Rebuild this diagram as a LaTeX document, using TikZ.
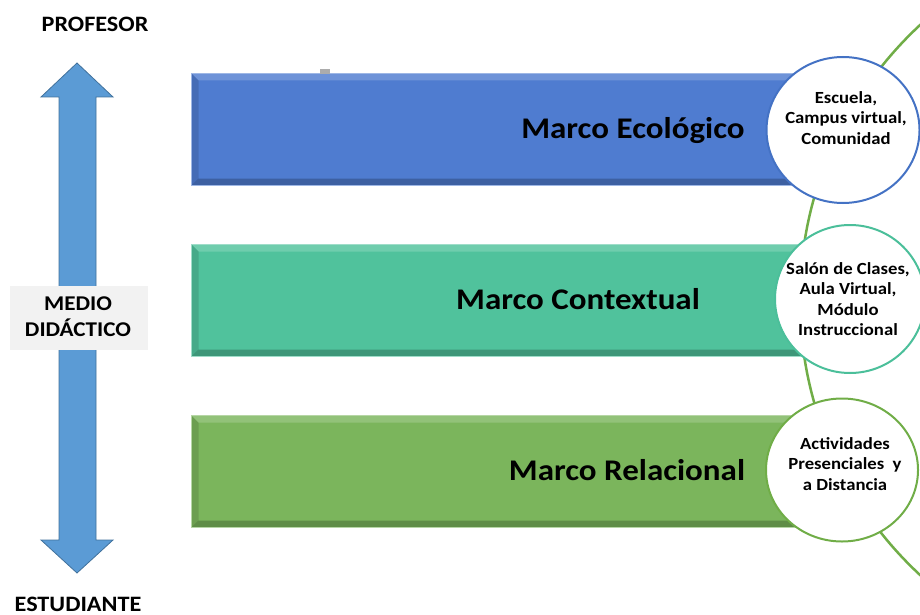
\documentclass[tikz,border=0pt]{standalone}
\usepackage{fontspec}
\setmainfont[FakeStretch=1.1]{Carlito}
\usetikzlibrary{shapes.geometric}
\definecolor{barblue}{HTML}{4F7CD0}
\definecolor{barteal}{HTML}{50C29C}
\definecolor{bargreen}{HTML}{7BB55C}
\definecolor{ringblue}{HTML}{4472C4}
\definecolor{ringteal}{HTML}{4BBF9A}
\definecolor{ringgreen}{HTML}{70AD47}
\definecolor{arrowblue}{HTML}{5B9BD5}
\definecolor{arrowedge}{HTML}{41719C}
\definecolor{medbox}{HTML}{F2F2F2}
\begin{document}
\begin{tikzpicture}[x=1pt,y=-1pt,
  bar/.style={rectangle, anchor=north west, minimum width=640pt, minimum height=#1, inner sep=0pt, line width=1pt,
    path picture={
      \fill[white,opacity=0.18] (path picture bounding box.north west) -- (path picture bounding box.north east)
        -- ([xshift=-7pt,yshift=-7pt]path picture bounding box.north east) -- ([xshift=7pt,yshift=-7pt]path picture bounding box.north west) -- cycle;
      \fill[black,opacity=0.12] (path picture bounding box.north west) -- ([xshift=7pt,yshift=-7pt]path picture bounding box.north west)
        -- ([xshift=7pt,yshift=7pt]path picture bounding box.south west) -- (path picture bounding box.south west) -- cycle;
      \fill[black,opacity=0.22] (path picture bounding box.south west) -- (path picture bounding box.south east)
        -- ([xshift=-7pt,yshift=7pt]path picture bounding box.south east) -- ([xshift=7pt,yshift=7pt]path picture bounding box.south west) -- cycle;
    }},
  bartext/.style={anchor=base, font=\bfseries\fontsize{30}{34}\selectfont, text=black, inner sep=0pt},
  ring/.style={ellipse, draw=#1, line width=2pt, fill=white, inner sep=0pt},
  ringtext/.style={align=center, font=\bfseries\fontsize{17}{20.5}\selectfont, text=black, inner sep=0pt},
  sidetext/.style={font=\bfseries\fontsize{22}{26}\selectfont, text=black, inner sep=0pt, anchor=base},
]
\useasboundingbox (0,0) rectangle (920,615);
\begin{scope}
\clip (0,0) rectangle (920,615);
% bars
\node[bar=112pt, fill=barblue, draw=barblue!55!white] (b1) at (191,73) {};
\node[bar=112pt, fill=barteal, draw=barteal!55!white] (b2) at (191,244) {};
\node[bar=112pt, fill=bargreen, draw=bargreen!55!white] (b3) at (191,415) {};
\fill[gray!65] (320,69) rectangle (330,74);
% big arc
\draw[ringgreen, line width=2.5pt] (1175,300) circle (375);
% circles
\node[ring=ringblue, minimum width=153pt, minimum height=146pt] (c1) at (843,130) {};
\node[ring=ringteal, minimum width=150pt, minimum height=148pt] (c2) at (850,299) {};
\node[ring=ringgreen, minimum width=152pt, minimum height=143pt] (c3) at (842,470) {};
\end{scope}
\node[ringtext] (t1) at (846,118) {Escuela,\\Campus virtual,\\Comunidad};
\node[ringtext] (t2) at (848,299) {Salón de Clases,\\Aula Virtual,\\Módulo\\Instruccional};
\node[ringtext] (t3) at (845,464) {Actividades\\Presenciales\ \ y\\a Distancia};
% bar labels
\node[bartext] (l1) at (633,138) {Marco Ecológico};
\node[bartext] (l2) at (578,309) {Marco Contextual};
\node[bartext] (l3) at (627,480) {Marco Relacional};
% arrow
\draw[fill=arrowblue, draw=arrowedge, line width=0.8pt]
  (77,63) -- (113,97) -- (96,97) -- (96,540) -- (113,540) -- (77,573) -- (41,540) -- (59,540) -- (59,97) -- (41,97) -- cycle;
\node[fill=medbox, minimum width=138pt, minimum height=64pt, inner sep=0pt] (md) at (79,318) {};
\node[align=center, font=\bfseries\fontsize{21}{26}\selectfont, inner sep=0pt] (mdt) at (78,317) {MEDIO\\DIDÁCTICO};
\node[sidetext] (prof) at (95,32) {PROFESOR};
\node[sidetext] (est) at (78,611) {ESTUDIANTE};
\end{tikzpicture}
\end{document}
